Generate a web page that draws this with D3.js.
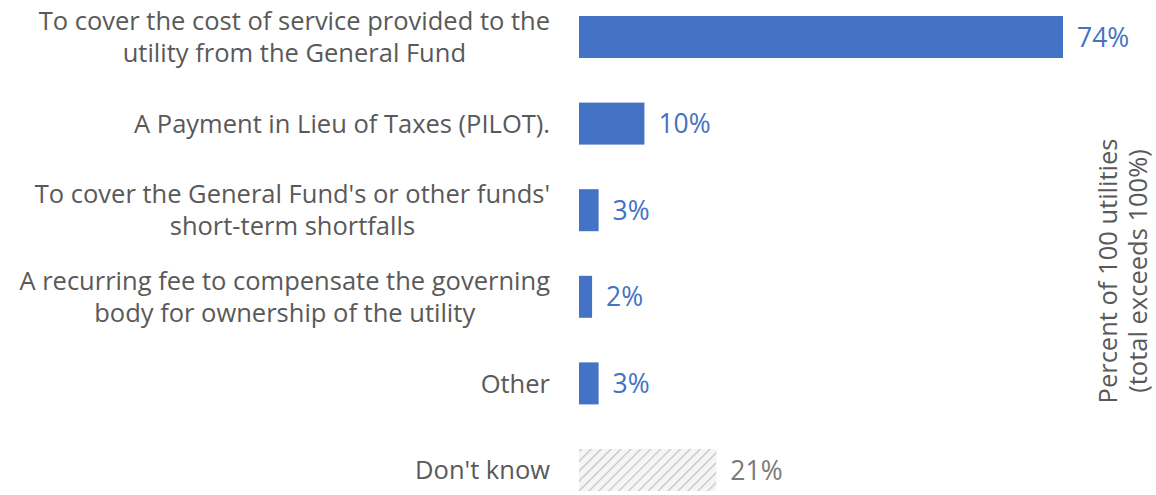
<!DOCTYPE html>
<html>
<head>
<meta charset="utf-8">
<script src="https://cdn.jsdelivr.net/npm/d3@7"></script>
<style>
  html, body { margin: 0; padding: 0; background: #fff; }
  svg { display: block; }
  text { font-family: "Open Sans", Lato, sans-serif; }
</style>
</head>
<body>
<svg id="chart" width="1156" height="495"></svg>
<script>
// Reasons for utility transfers to the General Fund
const categories = [
  ["To cover the cost of service provided to the", "utility from the General Fund"],
  ["A Payment in Lieu of Taxes (PILOT)."],
  ["To cover the General Fund's or other funds'", "short-term shortfalls"],
  ["A recurring fee to compensate the governing", "body for ownership of the utility"],
  ["Other"],
  ["Don't know"]
];
const values = [74, 10, 3, 2, 3, 21];
const valueLabels = ["74%", "10%", "3%", "2%", "3%", "21%"];
const unknownIndex = [5];
const axisTitle = ["Percent of 100 utilities", "(total exceeds 100%)"];

const svg = d3.select("#chart");

const defs = svg.append("defs");
const pat = defs.append("pattern")
  .attr("id", "hatch")
  .attr("patternUnits", "userSpaceOnUse")
  .attr("width", 7).attr("height", 7)
  .attr("patternTransform", "rotate(45)");
pat.append("rect").attr("width", 7).attr("height", 7).attr("fill", "#f5f5f5");
pat.append("line").attr("x1", 0).attr("y1", 0).attr("x2", 0).attr("y2", 7)
  .attr("stroke", "#c2c2c2").attr("stroke-width", 2.4);

const x = d3.scaleLinear().domain([0, 74]).range([579, 1063]);
const y = d3.scaleBand()
  .domain(d3.range(categories.length))
  .range([16, 491])
  .paddingInner(0.515).paddingOuter(0);

const g = svg.append("g");

g.selectAll("rect.bar")
  .data(values)
  .join("rect")
  .attr("class", "bar")
  .attr("x", x(0))
  .attr("y", (d, i) => y(i))
  .attr("width", d => x(d) - x(0))
  .attr("height", y.bandwidth())
  .attr("fill", (d, i) => unknownIndex.includes(i) ? "url(#hatch)" : "#4472C4");

g.selectAll("text.val")
  .data(values)
  .join("text")
  .attr("class", "val")
  .attr("x", d => x(d) + 14)
  .attr("y", (d, i) => y(i) + y.bandwidth() / 2)
  .attr("dy", "0.36em")
  .attr("font-size", 26.5)
  .attr("fill", (d, i) => unknownIndex.includes(i) ? "#7a7a7a" : "#4472C4")
  .text((d, i) => valueLabels[i]);

// Category labels: lines centred within a block whose right edge sits beside the bars
const labelRight = 550;
const lineH = 32;
const cat = g.selectAll("text.cat")
  .data(categories)
  .join("text")
  .attr("class", "cat")
  .attr("text-anchor", "middle")
  .attr("font-size", 25.5)
  .attr("fill", "#595959");
cat.each(function(d, i) {
  const t = d3.select(this);
  const spans = d.map((line, k) => t.append("tspan")
    .attr("x", 0)
    .attr("y", (k - (d.length - 1) / 2) * lineH)
    .attr("dy", "0.36em")
    .text(line));
  const maxW = d3.max(spans, s => s.node().getComputedTextLength());
  t.attr("transform", `translate(${labelRight - maxW / 2},${y(i) + y.bandwidth() / 2})`);
});

const title = g.append("text")
  .attr("transform", "translate(1123,271) rotate(-90)")
  .attr("text-anchor", "middle")
  .attr("font-size", 25.5)
  .attr("fill", "#595959");
axisTitle.forEach((line, k) => {
  title.append("tspan").attr("x", 0).attr("y", (k - 0.5) * 30).attr("dy", "0.36em").text(line);
});
</script>
</body>
</html>
